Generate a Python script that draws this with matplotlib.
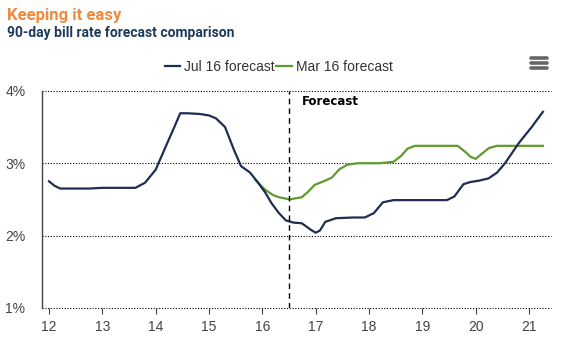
import matplotlib
matplotlib.use('Agg')
import matplotlib.pyplot as plt
from matplotlib.lines import Line2D

plt.rcParams['font.family'] = ['Liberation Sans', 'DejaVu Sans']

# Jul 16 forecast (navy)
jul_x = [12.0, 12.1, 12.21, 12.4, 12.75, 13.0, 13.3, 13.62, 13.8, 14.0, 14.2, 14.35,
         14.46, 14.6, 14.83, 15.0, 15.13, 15.3, 15.47, 15.6, 15.77, 15.9, 16.05, 16.17,
         16.3, 16.44, 16.58, 16.74, 16.91, 17.0, 17.08, 17.18, 17.38, 17.7, 17.92, 18.09,
         18.26, 18.46, 19.0, 19.46, 19.6, 19.77, 19.9, 20.07, 20.24, 20.4, 20.55, 20.81,
         21.05, 21.26]
jul_y = [2.75, 2.69, 2.65, 2.65, 2.65, 2.66, 2.66, 2.66, 2.73, 2.91, 3.25, 3.5,
         3.69, 3.69, 3.68, 3.66, 3.62, 3.5, 3.18, 2.96, 2.87, 2.75, 2.6, 2.45,
         2.32, 2.21, 2.18, 2.17, 2.08, 2.04, 2.07, 2.19, 2.24, 2.25, 2.25, 2.31,
         2.46, 2.49, 2.49, 2.49, 2.54, 2.71, 2.74, 2.76, 2.79, 2.87, 3.0, 3.28,
         3.5, 3.71]

# Mar 16 forecast (green)
mar_x = [15.87, 16.04, 16.2, 16.31, 16.51, 16.74, 16.85, 16.98, 17.18, 17.3, 17.45,
         17.6, 17.79, 18.2, 18.46, 18.6, 18.72, 18.86, 19.2, 19.66, 19.8, 19.9, 20.0,
         20.13, 20.25, 20.4, 20.8, 21.26]
mar_y = [2.77, 2.64, 2.56, 2.53, 2.5, 2.53, 2.6, 2.7, 2.76, 2.8, 2.92,
         2.98, 3.0, 3.0, 3.02, 3.1, 3.2, 3.24, 3.24, 3.24, 3.16, 3.09, 3.06,
         3.14, 3.21, 3.24, 3.24, 3.24]

x_ticks = list(range(12, 22))
y_ticks = [1, 2, 3, 4]
forecast_start = 16.5

NAVY = '#1f2d52'
GREEN = '#5f9a2c'

fig = plt.figure(figsize=(5.61, 3.48), dpi=100)
ax = fig.add_axes([0.075, 0.115, 0.907, 0.624])

ax.plot(jul_x, jul_y, color=NAVY, linewidth=1.6, label='Jul 16 forecast', zorder=3)
ax.plot(mar_x, mar_y, color=GREEN, linewidth=1.6, label='Mar 16 forecast', zorder=2)

ax.axvline(forecast_start, color='black', linestyle=(0, (4, 3)), linewidth=1.0, zorder=4)
ax.text(16.75, 3.8, 'Forecast', fontsize=8.5, fontweight='bold', color='black',
        family=['DejaVu Sans'])

ax.set_xlim(11.87, 21.41)
ax.set_ylim(1, 4)
ax.set_xticks(x_ticks)
ax.set_yticks(y_ticks)
ax.set_yticklabels([f'{v}%' for v in y_ticks])
for v in y_ticks:
    ax.axhline(v, color='black', linestyle=(0, (1, 1.5)), linewidth=0.8, zorder=1,
               clip_on=False)

for s in ['top', 'right', 'bottom']:
    ax.spines[s].set_visible(False)
ax.spines['left'].set_color('#444444')
ax.spines['left'].set_linewidth(1.0)

ax.tick_params(axis='x', length=4, color='#444444', labelsize=10, labelcolor='#444444', pad=5)
ax.tick_params(axis='y', length=0, labelsize=10, labelcolor='#444444', pad=12)

leg = fig.legend(handles=ax.get_lines()[:2], loc='center', bbox_to_anchor=(0.497, 0.807),
                 ncol=2, frameon=False, fontsize=10, handlelength=1.1, handletextpad=0.3,
                 columnspacing=0.1, labelcolor='#333333')

# hamburger menu icon
for yy in [0.833, 0.819, 0.805]:
    fig.add_artist(Line2D([0.947, 0.975], [yy, yy], color='#666666', linewidth=2.6,
                          solid_capstyle='round'))

fig.text(0.012, 0.955, 'Keeping it easy', fontsize=12, color='#f08a3c', fontweight='bold',
         family=['Liberation Sans Narrow', 'Roboto'], va='center')
fig.text(0.012, 0.905, '90-day bill rate forecast comparison', fontsize=10, color='#1d3a5c',
         fontweight='bold', family=['Liberation Sans Narrow', 'Roboto'], va='center')

plt.savefig('out.png', dpi=100)
